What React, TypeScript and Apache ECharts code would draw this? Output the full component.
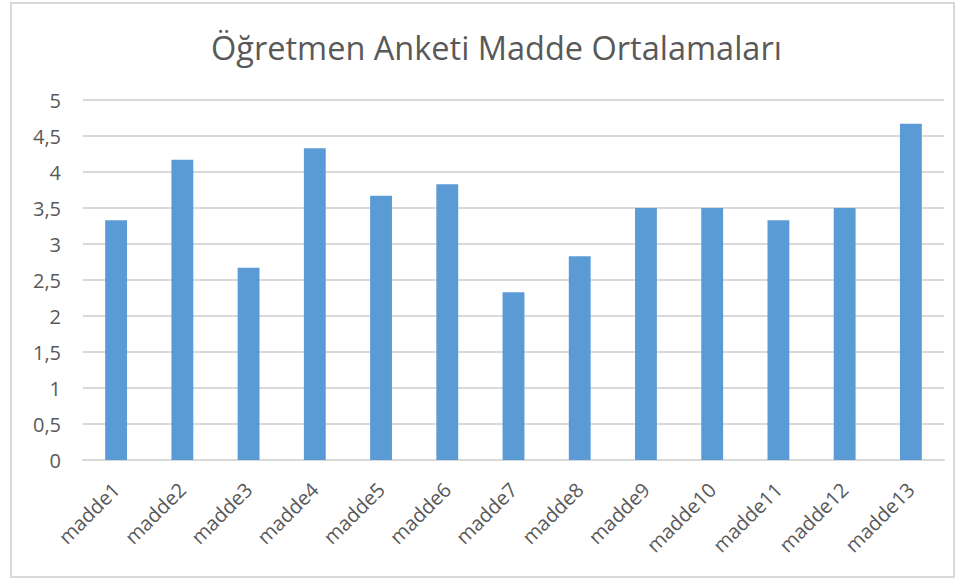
import React, { useEffect, useRef } from "react";
import * as echarts from "echarts";

const categories = ["madde1","madde2","madde3","madde4","madde5","madde6","madde7","madde8","madde9","madde10","madde11","madde12","madde13"];
const values = [3.33, 4.17, 2.67, 4.33, 3.67, 3.83, 2.33, 2.83, 3.5, 3.5, 3.33, 3.5, 4.67];
const titleText = "Öğretmen Anketi Madde Ortalamaları";

export default function App() {
  const ref = useRef<HTMLDivElement>(null);
  useEffect(() => {
    document.body.style.margin = "0";
    const chart = echarts.init(ref.current!, null, { renderer: "svg" });
    chart.setOption({
      animation: false,
      backgroundColor: "#ffffff",
      title: {
        text: titleText,
        left: 206,
        top: 26,
        textStyle: { fontFamily: "Open Sans", fontWeight: "normal", fontSize: 32.5, color: "#595959" },
      },
      graphic: [
        {
          type: "rect",
          shape: { x: 11, y: 3, width: 943, height: 574 },
          style: { fill: "none", stroke: "#d9d9d9", lineWidth: 2 },
          silent: true,
        },
      ],
      grid: { left: 83, right: 12, top: 100, bottom: 121, containLabel: false },
      xAxis: {
        type: "category",
        data: categories,
        axisLine: { lineStyle: { color: "#d9d9d9", width: 2 } },
        axisTick: { show: false },
        axisLabel: {
          rotate: 45,
          interval: 0,
          margin: 26,
          fontFamily: "Open Sans",
          fontSize: 20,
          color: "#595959",
        },
      },
      yAxis: {
        type: "value",
        min: 0,
        max: 5,
        interval: 0.5,
        axisLine: { show: false },
        axisTick: { show: false },
        splitLine: { lineStyle: { color: "#d9d9d9", width: 2 } },
        axisLabel: {
          margin: 22,
          fontFamily: "Open Sans",
          fontSize: 20,
          color: "#595959",
          formatter: (v: number) => String(v).replace(".", ","),
        },
      },
      series: [
        {
          type: "bar",
          data: values,
          barWidth: "33%",
          itemStyle: { color: "#5b9bd5" },
        },
      ],
    });
    return () => chart.dispose();
  }, []);
  return <div ref={ref} style={{ width: 956, height: 581 }} />;
}
